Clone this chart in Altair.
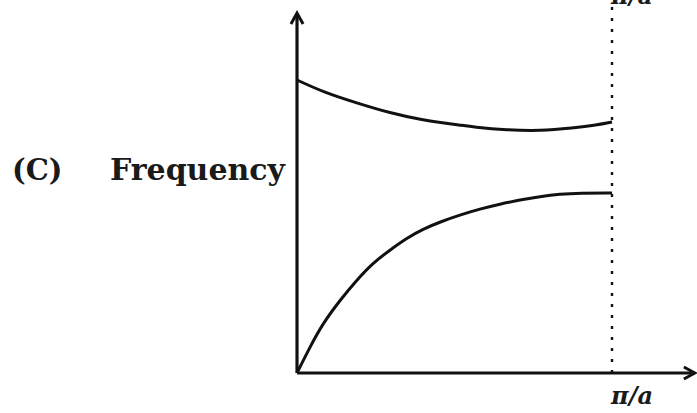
import altair as alt
import pandas as pd

# Wave vector k in units of pi/a, frequency in arbitrary units
k_acoustic = [0, 0.041, 0.083, 0.137, 0.190, 0.241, 0.295, 0.349, 0.400, 0.454, 0.517,
              0.581, 0.644, 0.708, 0.771, 0.835, 0.898, 1.0]
w_acoustic = [0, 0.26, 0.50, 0.73, 0.93, 1.10, 1.23, 1.35, 1.44, 1.51, 1.58,
              1.64, 1.69, 1.73, 1.765, 1.79, 1.80, 1.80]
k_optical = [0, 0.083, 0.190, 0.295, 0.400, 0.454, 0.517, 0.559, 0.667, 0.771, 0.876, 0.952, 1.0]
w_optical = [2.93, 2.81, 2.70, 2.60, 2.53, 2.505, 2.48, 2.46, 2.43, 2.42, 2.45, 2.48, 2.51]

k_zone_edge = 1.0
k_axis_end = 1.263
w_axis_end = 3.60

label_text = ["(C)", "Frequency", "π/a", "π/a"]
label_k = [-0.905, -0.038, 0.997, 0.997]
label_w = [1.93, 1.93, -0.31, 3.69]

W, H = 697, 413
xs = alt.Scale(domain=[-0.9429, 1.2698], nice=False, zero=False)
ys = alt.Scale(domain=[-0.40, 3.73], nice=False, zero=False)

X = alt.X("k:Q", scale=xs, axis=None)
Y = alt.Y("w:Q", scale=ys, axis=None)

branches = pd.DataFrame({
    "k": k_acoustic + k_optical,
    "w": w_acoustic + w_optical,
    "branch": ["acoustic"] * len(k_acoustic) + ["optical"] * len(k_optical),
})

curves = alt.Chart(branches).mark_line(
    color="#111111", strokeWidth=3, interpolate="basis"
).encode(x=X, y=Y, detail="branch:N")

# Axes drawn as rules
x_axis = alt.Chart(pd.DataFrame({"k": [0], "k2": [k_axis_end - 0.01], "w": [0]})).mark_rule(
    color="#111111", strokeWidth=3.2
).encode(x=X, x2="k2:Q", y=Y)

y_axis = alt.Chart(pd.DataFrame({"k": [0], "w": [0], "w2": [w_axis_end - 0.02]})).mark_rule(
    color="#111111", strokeWidth=3.2
).encode(x=X, y=Y, y2="w2:Q")

# Zone boundary at pi/a
edge = alt.Chart(pd.DataFrame({"k": [k_zone_edge], "w": [0], "w2": [3.8]})).mark_rule(
    color="#111111", strokeWidth=2.4, strokeDash=[3, 8]
).encode(x=X, y=Y, y2="w2:Q")

# Arrow heads
arrow_right = alt.Chart(pd.DataFrame({"k": [k_axis_end], "w": [0]})).mark_point(
    shape="M-1,-0.55 L0,0 L-1,0.55", size=484, filled=False, stroke="#111111",
    strokeWidth=3, opacity=1
).encode(x=X, y=Y)

arrow_up = alt.Chart(pd.DataFrame({"k": [0], "w": [w_axis_end]})).mark_point(
    shape="M-0.55,1 L0,0 L0.55,1", size=484, filled=False, stroke="#111111",
    strokeWidth=3, opacity=1
).encode(x=X, y=Y)

labels = pd.DataFrame({"text": label_text, "k": label_k, "w": label_w})

tag = alt.Chart(labels.iloc[[0]]).mark_text(
    font="DejaVu Serif", fontSize=29, fontWeight=600, align="left",
    baseline="alphabetic", color="#1a1a1a"
).encode(x=X, y=Y, text="text:N")

ylab = alt.Chart(labels.iloc[[1]]).mark_text(
    font="DejaVu Serif", fontSize=30, fontWeight="bold", align="right",
    baseline="alphabetic", color="#1a1a1a"
).encode(x=X, y=Y, text="text:N")

klab = alt.Chart(labels.iloc[[2, 3]]).mark_text(
    font="DejaVu Serif", fontSize=24, fontWeight="bold", fontStyle="italic", align="left",
    baseline="alphabetic", color="#1a1a1a"
).encode(x=X, y=Y, text="text:N")

chart = alt.layer(
    edge, x_axis, y_axis, arrow_right, arrow_up, curves, tag, ylab, klab
).properties(
    width=W, height=H, padding=0, autosize="none", background="white"
).configure_view(stroke=None)

chart.save("out.html", embed_options={"renderer": "svg", "actions": False})
